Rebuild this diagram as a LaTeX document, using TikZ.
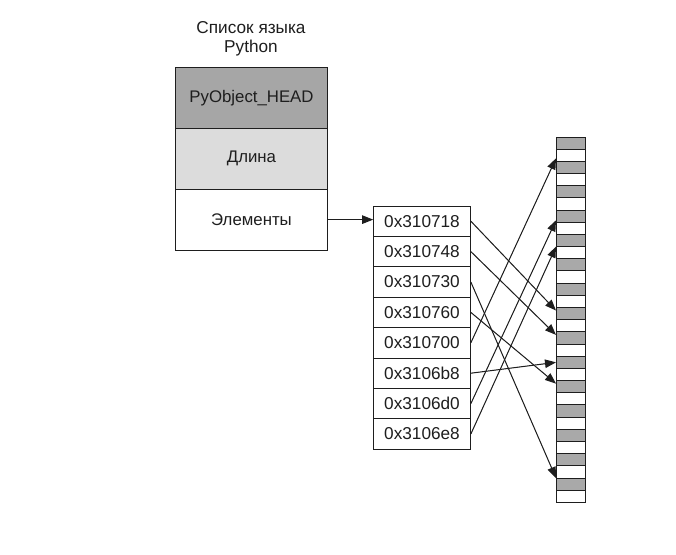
\documentclass[tikz,border=0pt]{standalone}
\usepackage{fontspec}
\setmainfont{Liberation Sans}
\usetikzlibrary{arrows.meta}
\definecolor{headgray}{HTML}{A6A6A6}
\definecolor{lengray}{HTML}{DCDCDC}
\definecolor{slotgray}{HTML}{A9A9A9}
\definecolor{ink}{HTML}{1E1E1E}
\begin{document}
\begin{tikzpicture}[x=1pt,y=-1pt,
  cell/.style={draw=ink, line width=1pt, inner sep=0pt, outer sep=0pt, text=ink, font=\fontsize{16.8}{19}\selectfont},
  field/.style={cell, minimum width=151.6pt, minimum height=61pt},
  ptr/.style={cell, minimum width=97.7pt, minimum height=30.4pt, font=\fontsize{17.2}{19}\selectfont},
  slot/.style={draw=ink, line width=1pt, inner sep=0pt, outer sep=0pt, minimum width=29pt, minimum height=12.18pt},
  arr/.style={-{Triangle[length=11pt,width=8.5pt]}, line width=1pt, draw=ink, fill=ink}]
\fill[white] (0,0) rectangle (676,554);
\useasboundingbox (0,0) rectangle (676,554);

\node[align=center, text=ink, font=\fontsize{17.2}{18.5}\selectfont] (title) at (251,39) {Список языка\\Python};

\node[field, fill=headgray] (head) at (251.5,98.3) {PyObject\_HEAD};
\node[field, fill=lengray] (len) at (251.5,158.8) {Длина};
\node[field, fill=white] (elems) at (251.5,219.6) {Элементы};

\foreach \t [count=\i from 0] in {0x310718,0x310748,0x310730,0x310760,0x310700,0x3106b8,0x3106d0,0x3106e8}
  \node[ptr, fill=white] (p\i) at (422,{221.2+30.4*\i}) {\t};

\foreach \k in {0,2,...,28}
  \node[slot, fill=slotgray] (s\k) at (570.5,{143.09+12.18*\k}) {};
\foreach \k in {1,3,...,29}
  \node[slot, fill=white] (s\k) at (570.5,{143.09+12.18*\k}) {};

\draw[arr] (elems.east) -- (elems.east -| p0.west);

\draw[arr] (p0.east) -- ([yshift=-3pt]s14.north west);
\draw[arr] (p1.east) -- ([yshift=-3pt]s16.north west);
\draw[arr] (p2.east) -- (s28.north west);
\draw[arr] (p3.east) -- ([yshift=-3pt]s20.north west);
\draw[arr] (p4.east) -- ([yshift=3pt]s1.south west);
\draw[arr] (p5.east) -- (s18.west);
\draw[arr] (p6.east) -- ([yshift=2pt]s6.south west);
\draw[arr] (p7.east) -- (s8.south west);
\end{tikzpicture}
\end{document}
